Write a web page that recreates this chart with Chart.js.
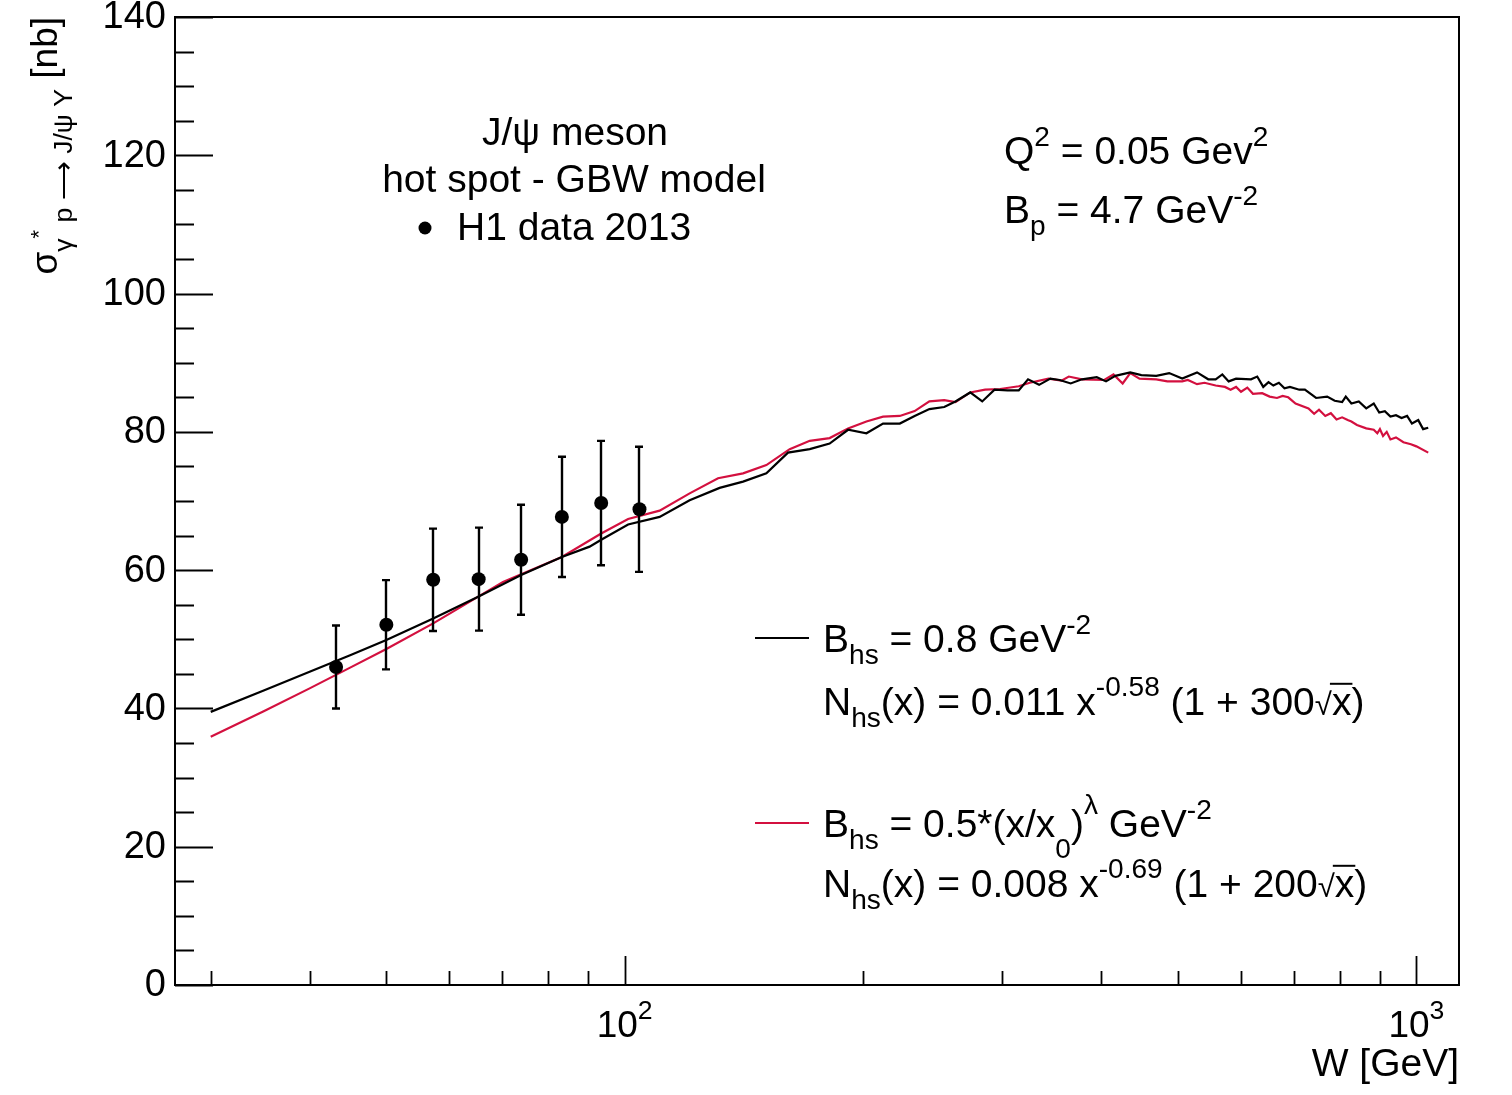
<!DOCTYPE html>
<html><head><meta charset="utf-8">
<script src="https://cdn.jsdelivr.net/npm/chart.js@4.4.1/dist/chart.umd.min.js"></script>
<style>html,body{margin:0;padding:0;background:#fff;}canvas{display:block;}</style>
</head><body>
<canvas id="c" width="1512" height="1095"></canvas>
<script>
const FONT = '"Liberation Sans", Arial, Helvetica, sans-serif';

// H1 data 2013
const dataW = [43.2, 50.0, 57.3, 65.4, 74.0, 83.3, 93.4, 104.4];
const dataSigma = [46.0, 52.1, 58.6, 58.7, 61.5, 67.7, 69.7, 68.8];
const dataErr = [6.0, 6.45, 7.4, 7.45, 7.95, 8.7, 9.0, 9.05];

// hot spot model, B_hs = 0.8 GeV^-2 (black)
const blackW = [30,35,40,45,50,57.3,65.4,74.0,83.3,90.3,93.4,101,110.7,120.8,131.8,141.1,151,160.8,171.3,181.5,191.5,202,212,222.6,232.4,242.6,253.3,261.7,273.2,282.9,293.2,304.5,314.6,323.2,333.8,344.9,354.3,365.9,378.1,394.7,405.5,416.6,435.1,449.4,469.3,487.3,506.1,528.4,545.9,557.8,568.7,579.3,591.9,618.2,629.5,640.6,650.5,659.7,670.4,681.4,692.3,711.4,723.1,747,771.5,788.6,805.8,814.4,827.8,845.8,864.3,883.4,897.6,912.4,927.3,942.4,957.8,973.4,987.2,1005.5,1019.8,1035.1];
const blackSigma = [39.5,42.6,45.3,47.7,49.9,53.0,56.2,59.3,61.9,63.4,64.4,66.6,67.7,70.1,71.9,72.8,74.0,77.0,77.5,78.3,80.3,79.8,81.2,81.2,82.3,83.3,83.6,84.4,85.7,84.4,86.1,86.0,86.0,87.6,86.8,87.7,87.5,87.0,87.6,87.9,87.3,88.1,88.6,88.2,88.1,88.5,87.7,88.6,87.6,87.6,88.3,87.3,87.7,87.6,88.0,86.5,87.2,86.7,87.1,86.3,86.5,86.1,86.1,84.9,85.1,84.5,84.3,85.1,84.1,84.4,83.4,84.1,82.8,83.0,82.2,82.4,82.0,82.3,81.2,81.7,80.4,80.6];

// hot spot model, B_hs = 0.5*(x/x0)^lambda (red)
const redW = [30,35,40,45,50,57.3,65.4,70.2,83.3,93.4,101,110.7,120.8,131.2,141.1,151,161.6,171.3,181.5,191.5,202,212,222.6,232.4,242.6,253.3,261.7,273.2,285.3,298.0,314.6,324.9,343.0,356.2,363.9,378.1,403.4,414.4,425.6,435.1,447.0,469.3,484.7,506.1,514.4,528.4,540.0,557.8,573.1,582.5,591.9,600.5,611.6,621.7,638.6,652.6,666.7,677.7,688.8,703.7,730.7,742.8,753.4,767.2,779.8,792.8,805.8,818.9,827.8,841.3,864.3,883.4,892.6,899.4,907.6,917.4,927.3,942.4,963,984.2,1000,1035.1];
const redSigma = [35.9,39.6,42.9,45.9,48.6,52.3,56.2,58.3,61.9,65.3,67.4,68.6,71.1,73.3,74.0,75.2,77.5,78.7,79.1,80.5,81.5,82.2,82.3,83.0,84.4,84.6,84.3,85.7,86.1,86.2,86.6,87.1,87.7,87.4,88.0,87.6,87.5,88.3,87.0,88.5,87.7,87.6,87.3,87.3,87.5,86.9,87.1,86.7,86.5,86.1,86.5,85.8,86.4,85.5,85.6,85.1,84.9,85.2,85.0,84.1,83.4,82.6,83.2,82.3,82.7,81.8,82.1,81.7,81.5,81.0,80.5,80.3,79.8,80.4,79.4,80.0,78.9,79.2,78.5,78.2,77.9,77.0];

// axes
const xMin = 27.04, xMax = 1132;
const yMin = 0, yMax = 140;
const yMajorTicks = [0,20,40,60,80,100,120,140];
const yMinorTicks = [5,10,15,25,30,35,45,50,55,65,70,75,85,90,95,105,110,115,125,130,135];
const xMajorTicks = [100,1000];
const xMajorLabels = [['10','2'],['10','3']];
const xMinorTicks = [30,40,50,60,70,80,90,200,300,400,500,600,700,800,900];

const RED = '#d3103f';

function segW(ctx, segs, size){
  let w = 0;
  for (const s of segs){ ctx.font = (size*(s.s||1))+'px '+FONT; w += ctx.measureText(s.t).width; }
  return w;
}
function drawRich(ctx, x, y, segs, size, align){
  const total = segW(ctx, segs, size);
  let cx = align==='center' ? x-total/2 : align==='right' ? x-total : x;
  ctx.textAlign = 'left'; ctx.textBaseline = 'alphabetic';
  for (const s of segs){
    const fs = size*(s.s||1);
    ctx.font = fs+'px '+FONT;
    const w = ctx.measureText(s.t).width;
    const yy = y + size*(s.dy||0);
    ctx.fillText(s.t, cx, yy);
    if (s.over){
      ctx.save(); ctx.lineWidth = 2; ctx.beginPath();
      ctx.moveTo(cx-2, yy-fs*0.8); ctx.lineTo(cx+w+1, yy-fs*0.8); ctx.stroke(); ctx.restore();
    }
    cx += w;
  }
}
const SUB = 0.72;

const deco = {
  id: 'deco',
  beforeDatasetDraw(chart, args){
    if (args.index !== 0) return;
    const ctx = chart.ctx, xs = chart.scales.x, ys = chart.scales.y;
    ctx.save(); ctx.strokeStyle = '#000'; ctx.lineWidth = 2.4;
    for (let i=0;i<dataW.length;i++){
      const px = Math.round(xs.getPixelForValue(dataW[i]));
      const t = ys.getPixelForValue(dataSigma[i]+dataErr[i]);
      const b = ys.getPixelForValue(dataSigma[i]-dataErr[i]);
      ctx.beginPath();
      ctx.moveTo(px, t); ctx.lineTo(px, b);
      ctx.moveTo(px-4, t); ctx.lineTo(px+4, t);
      ctx.moveTo(px-4, b); ctx.lineTo(px+4, b);
      ctx.stroke();
    }
    ctx.restore();
  },
  afterDraw(chart){
    const ctx = chart.ctx, xs = chart.scales.x, ys = chart.scales.y, a = chart.chartArea;
    ctx.save();
    ctx.strokeStyle = '#000'; ctx.fillStyle = '#000';
    // frame
    ctx.lineWidth = 2;
    ctx.strokeRect(a.left, a.top, a.right-a.left, a.bottom-a.top);
    // ticks
    ctx.beginPath();
    for (const v of yMajorTicks){ const p = Math.round(ys.getPixelForValue(v))+0.5; ctx.moveTo(a.left, p); ctx.lineTo(a.left+38, p); }
    for (const v of yMinorTicks){ const p = Math.round(ys.getPixelForValue(v))+0.5; ctx.moveTo(a.left, p); ctx.lineTo(a.left+19, p); }
    for (const v of xMajorTicks){ const p = Math.round(xs.getPixelForValue(v))+0.5; ctx.moveTo(p, a.bottom); ctx.lineTo(p, a.bottom-29); }
    for (const v of xMinorTicks){ const p = Math.round(xs.getPixelForValue(v))+0.5; ctx.moveTo(p, a.bottom); ctx.lineTo(p, a.bottom-14); }
    ctx.lineWidth = 1.8; ctx.stroke();
    // y labels
    ctx.font = '38px '+FONT; ctx.textAlign = 'right'; ctx.textBaseline = 'middle';
    for (const v of yMajorTicks){ ctx.fillText(String(v), 166, ys.getPixelForValue(v)+1); }
    // x labels
    xMajorTicks.forEach((v,i)=>{
      drawRich(ctx, xs.getPixelForValue(v), 1037, [{t:xMajorLabels[i][0]},{t:xMajorLabels[i][1], s:SUB, dy:-0.48}], 37, 'center');
    });
    drawRich(ctx, a.right, 1076, [{t:'W [GeV]'}], 39, 'right');
    // y title (rotated)
    ctx.save();
    ctx.translate(57, 17); ctx.rotate(-Math.PI/2);
    drawRich(ctx, 0, 0, [{t:'σ'},{t:'γ', s:0.72, dy:0.4},{t:'*', s:0.6, dy:-0.3},{t:' p ⟶ J/ψ Y', s:0.72, dy:0.4},{t:' [nb]'}], 37, 'right');
    ctx.restore();
    // info texts
    const F = 39;
    drawRich(ctx, 575, 145, [{t:'J/ψ meson'}], F, 'center');
    drawRich(ctx, 574, 192, [{t:'hot spot - GBW model'}], F, 'center');
    ctx.beginPath(); ctx.arc(425, 228, 6.5, 0, Math.PI*2); ctx.fill();
    drawRich(ctx, 457, 240, [{t:'H1 data 2013'}], F, 'left');
    drawRich(ctx, 1004, 164, [{t:'Q'},{t:'2', s:SUB, dy:-0.45},{t:' = 0.05 Gev'},{t:'2', s:SUB, dy:-0.45}], F, 'left');
    drawRich(ctx, 1004, 223, [{t:'B'},{t:'p', s:SUB, dy:0.3},{t:' = 4.7 GeV'},{t:'-2', s:SUB, dy:-0.45}], F, 'left');
    // legend
    ctx.lineWidth = 2;
    ctx.strokeStyle = '#000'; ctx.beginPath(); ctx.moveTo(755, 638); ctx.lineTo(809, 638); ctx.stroke();
    ctx.strokeStyle = RED; ctx.beginPath(); ctx.moveTo(755, 823); ctx.lineTo(809, 823); ctx.stroke();
    ctx.strokeStyle = '#000';
    drawRich(ctx, 823, 652, [{t:'B'},{t:'hs', s:SUB, dy:0.3},{t:' = 0.8 GeV'},{t:'-2', s:SUB, dy:-0.45}], F, 'left');
    drawRich(ctx, 823, 715, [{t:'N'},{t:'hs', s:SUB, dy:0.3},{t:'(x) = 0.011 x'},{t:'-0.58', s:SUB, dy:-0.5},{t:' (1 + 300'},{t:'√', s:0.8},{t:'x', over:true},{t:')'}], F, 'left');
    drawRich(ctx, 823, 837, [{t:'B'},{t:'hs', s:SUB, dy:0.3},{t:' = 0.5*(x/x'},{t:'0', s:SUB, dy:0.55},{t:')'},{t:'λ', s:SUB, dy:-0.6},{t:' GeV'},{t:'-2', s:SUB, dy:-0.45}], F, 'left');
    drawRich(ctx, 823, 897, [{t:'N'},{t:'hs', s:SUB, dy:0.3},{t:'(x) = 0.008 x'},{t:'-0.69', s:SUB, dy:-0.5},{t:' (1 + 200'},{t:'√', s:0.8},{t:'x', over:true},{t:')'}], F, 'left');
    ctx.restore();
  }
};

const toXY = (xs, ys) => xs.map((x,i)=>({x, y: ys[i]}));

new Chart(document.getElementById('c'), {
  type: 'line',
  data: {
    datasets: [
      { label: 'H1 data 2013', type: 'scatter', data: toXY(dataW, dataSigma), showLine: false,
        pointRadius: 7, pointBackgroundColor: '#000', pointBorderColor: '#000', pointBorderWidth: 0 },
      { label: 'B_hs = 0.8', data: toXY(blackW, blackSigma), borderColor: '#000', borderWidth: 2.2,
        pointRadius: 0, tension: 0, fill: false },
      { label: 'B_hs = 0.5', data: toXY(redW, redSigma), borderColor: RED, borderWidth: 2.2,
        pointRadius: 0, tension: 0, fill: false }
    ]
  },
  options: {
    responsive: false, animation: false, devicePixelRatio: 1,
    layout: { padding: { left: 175, right: 53, top: 17, bottom: 110 } },
    plugins: { legend: { display: false }, tooltip: { enabled: false } },
    scales: {
      x: { type: 'logarithmic', min: xMin, max: xMax, display: false },
      y: { type: 'linear', min: yMin, max: yMax, display: false }
    }
  },
  plugins: [deco]
});
</script>
</body></html>
